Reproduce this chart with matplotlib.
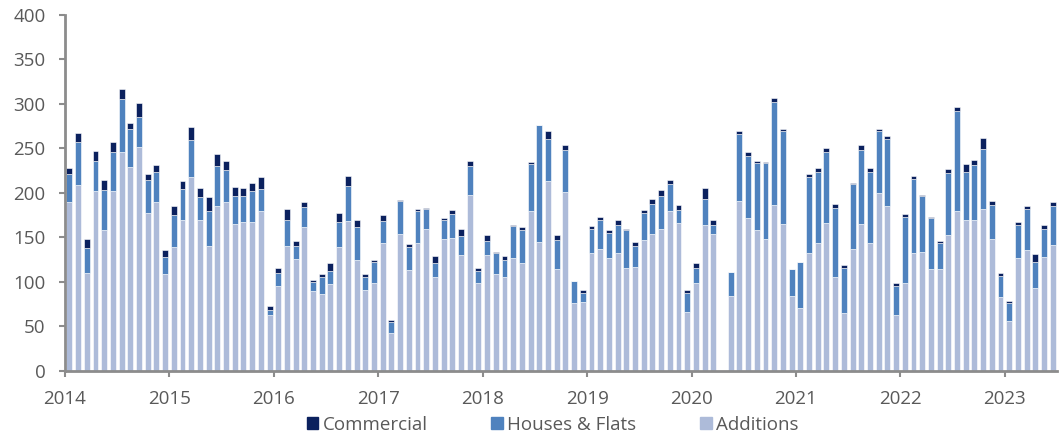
import matplotlib
matplotlib.use("Agg")
import matplotlib.pyplot as plt
import numpy as np
from matplotlib.patches import Patch

years = ["2014", "2015", "2016", "2017", "2018", "2019", "2020", "2021", "2022", "2023"]

# Monthly values, Jan 2014 .. Jun 2023
additions = [190, 209, 110, 202, 158, 202, 246, 229, 252, 178, 190, 109,
             139, 170, 218, 170, 140, 185, 190, 165, 167, 167, 180, 63,
             96, 140, 126, 162, 90, 86, 98, 139, 168, 125, 91, 99,
             144, 43, 154, 113, 144, 160, 106, 148, 149, 130, 198, 99,
             130, 109, 106, 127, 121, 180, 145, 213, 115, 201, 76, 78,
             132, 137, 127, 132, 116, 117, 147, 154, 160, 180, 166, 66,
             99, 164, 154, 0, 84, 191, 172, 158, 148, 186, 165, 84,
             71, 132, 144, 166, 106, 65, 137, 165, 144, 200, 185, 63,
             99, 132, 134, 114, 114, 153, 180, 170, 170, 182, 148, 83,
             56, 127, 136, 93, 128, 142]
houses = [31, 48, 28, 34, 45, 44, 60, 43, 33, 36, 34, 19,
          36, 34, 42, 25, 40, 45, 36, 31, 29, 35, 24, 6,
          14, 30, 14, 22, 10, 20, 14, 28, 40, 37, 15, 23,
          24, 12, 37, 26, 36, 22, 15, 22, 27, 22, 32, 13,
          16, 23, 19, 36, 37, 53, 131, 48, 32, 47, 25, 10,
          28, 33, 28, 32, 42, 23, 31, 34, 36, 30, 15, 22,
          17, 29, 10, 0, 27, 75, 70, 76, 86, 116, 105, 30,
          51, 86, 80, 80, 77, 51, 73, 83, 80, 70, 76, 33,
          74, 84, 62, 58, 30, 69, 112, 54, 61, 67, 38, 24,
          20, 37, 46, 29, 32, 43]
commercial = [7, 10, 10, 11, 11, 11, 11, 7, 16, 7, 7, 8,
              10, 9, 14, 11, 15, 14, 10, 11, 10, 9, 14, 4,
              6, 12, 6, 6, 2, 3, 9, 11, 11, 8, 3, 3,
              7, 2, 1, 4, 2, 1, 8, 2, 5, 8, 6, 4,
              7, 2, 4, 1, 4, 2, 0, 9, 6, 6, 0, 3,
              3, 3, 3, 6, 1.5, 5, 3, 5, 7, 4, 5, 3,
              5, 13, 6, 0, 0, 4, 4, 2, 1, 5, 2, 1,
              0, 3, 4, 5, 5, 3, 1, 6, 4, 2, 3, 3,
              3, 3, 2, 1, 2, 5, 5, 9, 6, 13, 5, 3,
              3, 3, 3, 9, 4, 5]

c_add = "#adbbd9"
c_hf = "#4f82be"
c_com = "#0b215e"
grey = "#595959"

plt.rcParams['font.family'] = ['Open Sans', 'DejaVu Sans']

fig = plt.figure(figsize=(10.63, 4.38), dpi=100)
ax = fig.add_axes([0.0612, 0.153, 0.9332, 0.813])

x = np.arange(len(additions))
a = np.array(additions, float)
h = np.array(houses, float)
c = np.array(commercial, float)
w = 0.68
ax.bar(x, a, width=w, color=c_add, edgecolor="white", linewidth=0.4)
ax.bar(x, h, bottom=a, width=w, color=c_hf, edgecolor="white", linewidth=0.4)
ax.bar(x, c, bottom=a + h, width=w, color=c_com, edgecolor="white", linewidth=0.4)

ax.set_xlim(-0.5, len(additions) - 0.5)
ax.set_ylim(0, 400)
ax.set_yticks(np.arange(0, 401, 50))
tick_pos = [-0.5 + 12 * i for i in range(len(years))]
ax.set_xticks(tick_pos)
ax.set_xticklabels(years)

for s in ["top", "right"]:
    ax.spines[s].set_visible(False)
for s in ["left", "bottom"]:
    ax.spines[s].set_color("#8c8c8c")
    ax.spines[s].set_linewidth(2)
ax.tick_params(axis="both", colors="#8c8c8c", labelcolor=grey, labelsize=13.5,
               length=4, width=1.5)
ax.tick_params(axis="y", pad=10)
ax.tick_params(axis="x", pad=10)

handles = [Patch(color=c_com), Patch(color=c_hf), Patch(color=c_add)]
labels = ["Commercial", "Houses & Flats", "Additions"]
leg = fig.legend(handles, labels, loc="center", bbox_to_anchor=(0.52, 0.03), ncol=3,
                 frameon=False, fontsize=13.5, handlelength=0.6, handleheight=0.6,
                 columnspacing=3.4, handletextpad=0.25, labelcolor=grey)

fig.savefig("out.png", dpi=100)
